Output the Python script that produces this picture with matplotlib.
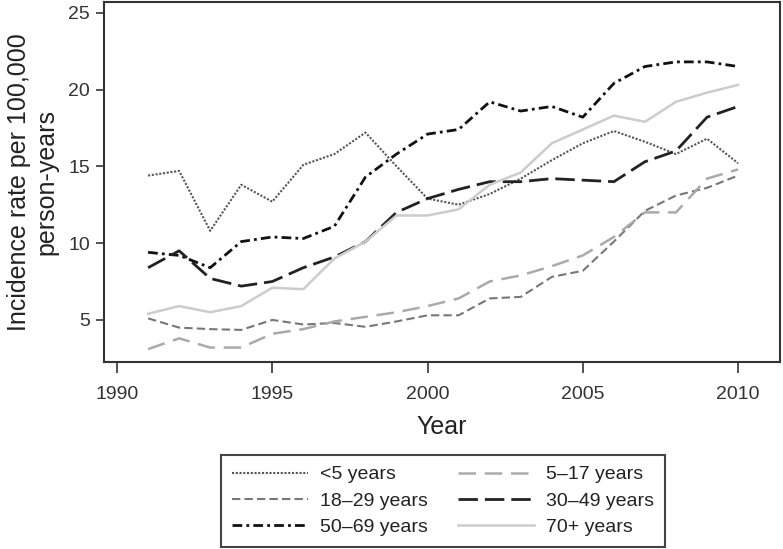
import matplotlib
matplotlib.use('Agg')
import matplotlib.pyplot as plt

plt.rcParams['font.family'] = ['Liberation Sans', 'DejaVu Sans']

years = list(range(1991, 2011))

under5 = [14.4, 14.7, 10.8, 13.8, 12.7, 15.1, 15.8, 17.2, 15.0, 12.9,
          12.5, 13.2, 14.2, 15.4, 16.5, 17.3, 16.6, 15.8, 16.8, 15.2]
age5_17 = [3.1, 3.8, 3.2, 3.2, 4.1, 4.4, 4.9, 5.2, 5.5, 5.9,
           6.4, 7.5, 7.9, 8.5, 9.2, 10.4, 12.0, 12.0, 14.2, 14.8]
age18_29 = [5.1, 4.5, 4.4, 4.35, 5.0, 4.7, 4.8, 4.55, 4.9, 5.3,
            5.3, 6.4, 6.5, 7.8, 8.2, 10.1, 12.1, 13.1, 13.6, 14.4]
age30_49 = [8.4, 9.5, 7.7, 7.2, 7.5, 8.4, 9.1, 10.1, 12.0, 12.9,
            13.5, 14.0, 14.0, 14.2, 14.1, 14.0, 15.3, 16.0, 18.2, 18.9]
age50_69 = [9.4, 9.2, 8.4, 10.1, 10.4, 10.3, 11.1, 14.3, 15.8, 17.1,
            17.4, 19.2, 18.6, 18.9, 18.2, 20.4, 21.5, 21.8, 21.8, 21.5]
age70 = [5.4, 5.9, 5.5, 5.9, 7.1, 7.0, 9.0, 10.1, 11.8, 11.8,
         12.2, 13.8, 14.6, 16.5, 17.4, 18.3, 17.9, 19.2, 19.8, 20.3]

fig = plt.figure(figsize=(7.83, 5.49), dpi=100)
ax = fig.add_axes([104 / 783, 1 - 362 / 549, 676 / 783, 360 / 549])

ax.plot(years, under5, color='#555555', lw=1.5, ls=(0, (1, 0.8)), label='<5 years')
ax.plot(years, age18_29, color='#777777', lw=1.5, ls=(0, (4, 2)), label='18\u201329 years')
ax.plot(years, age50_69, color='#111111', lw=2, ls=(0, (3.5, 1.5, 1, 1.5)), label='50\u201369 years')
ax.plot(years, age5_17, color='#aaaaaa', lw=1.8, ls=(0, (7, 3.5)), label='5\u201317 years')
ax.plot(years, age30_49, color='#222222', lw=2, ls=(0, (7, 2.5)), label='30\u201349 years')
ax.plot(years, age70, color='#cccccc', lw=1.8, ls='-', label='70+ years')

ax.set_xlim(1989.58, 2011.35)
ax.set_ylim(2.26, 25.7)
ax.set_xticks([1990, 1995, 2000, 2005, 2010])
ax.set_yticks([5, 10, 15, 20, 25])

for s in ax.spines.values():
    s.set_linewidth(1.5)
    s.set_color('#333333')

ax.tick_params(axis='x', length=8, width=1.3, color='#444444', labelsize=14,
               labelcolor='#333333', pad=9)
ax.tick_params(axis='y', length=6, width=1.3, color='#444444', labelsize=14,
               labelcolor='#333333', pad=4)

ax.set_xlabel('Year', fontsize=18, color='#222222', labelpad=9)
ax.set_ylabel('Incidence rate per 100,000\nperson-years', fontsize=18,
              color='#222222', labelpad=7, linespacing=1.2)

leg = fig.legend(loc='upper center', bbox_to_anchor=(443 / 783, 1 - 455 / 549),
                 ncol=2, fontsize=14, handlelength=3.9, handletextpad=0.6,
                 columnspacing=1.6, labelspacing=0.45, borderpad=0.55,
                 borderaxespad=0, fancybox=False, framealpha=1)
leg.get_frame().set_edgecolor('#444444')
leg.get_frame().set_linewidth(1.5)
for t in leg.get_texts():
    t.set_color('#222222')

fig.savefig('out.png', dpi=100)
